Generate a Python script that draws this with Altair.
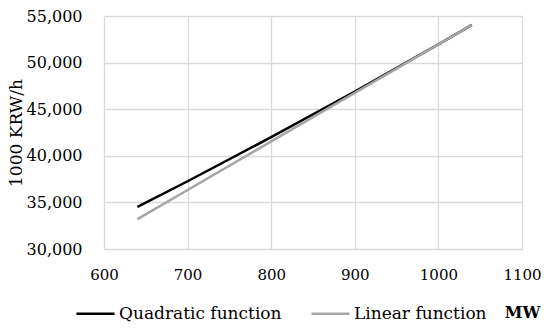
import altair as alt
import pandas as pd

mw_quad = [640, 700, 800, 900, 1000, 1040]
cost_quad = [34520, 37270, 42000, 46900, 51960, 54040]
mw_lin = [640, 700, 800, 900, 1000, 1040]
cost_lin = [33200, 36330, 41540, 46750, 51960, 54050]

series_names = ["Quadratic function", "Linear function"]
x_ticks = [600, 700, 800, 900, 1000, 1100]
y_ticks = [30000, 35000, 40000, 45000, 50000, 55000]

rows = []
for x, y in zip(mw_quad, cost_quad):
    rows.append({"MW": x, "cost": y, "series": series_names[0]})
for x, y in zip(mw_lin, cost_lin):
    rows.append({"MW": x, "cost": y, "series": series_names[1]})
df = pd.DataFrame(rows)

FONT = "DejaVu Serif"
FS = 16

chart = alt.Chart(df).mark_line(strokeWidth=2.5).encode(
    x=alt.X("MW:Q",
            scale=alt.Scale(domain=[600, 1100], nice=False, zero=False),
            axis=alt.Axis(values=x_ticks, title="MW", format="d",
                          domain=False, ticks=False, grid=True, labelFlush=False,
                          labelFontSize=15,
                          labelPadding=18, titleX=436, titleY=63,
                          titleAlign="right", titleBaseline="middle",
                          titleFontWeight="bold", titleFontSize=16)),
    y=alt.Y("cost:Q",
            scale=alt.Scale(domain=[30000, 55000], nice=False, zero=False),
            axis=alt.Axis(values=y_ticks, title="1000 KRW/h", format=",.0f",
                          domain=False, ticks=False, grid=True, labelFlush=False,
                          labelPadding=22, titlePadding=1,
                          titleFontWeight="normal", titleFontSize=17)),
    color=alt.Color("series:N",
                    scale=alt.Scale(domain=series_names, range=["#000000", "#a6a6a6"]),
                    legend=alt.Legend(title=None, orient="none", direction="horizontal",
                                      legendX=-29, legendY=277,
                                      symbolType="stroke", symbolSize=1444,
                                      symbolStrokeWidth=2.5, labelOffset=3,
                                      columnPadding=24, labelLimit=400)),
).properties(
    width=418, height=233,
    autosize=alt.AutoSizeParams(type="none"),
    padding={"left": 96, "top": 8, "right": 20, "bottom": 73},
).configure_axis(
    labelFont=FONT, titleFont=FONT, labelFontSize=FS,
    labelColor="#000000", titleColor="#000000",
    gridColor="#d9d9d9", gridWidth=1.3,
).configure_legend(
    labelFont=FONT, labelFontSize=17, labelColor="#000000",
).configure_view(stroke=None)

chart.save("out.html", embed_options={"renderer": "svg", "actions": False})
